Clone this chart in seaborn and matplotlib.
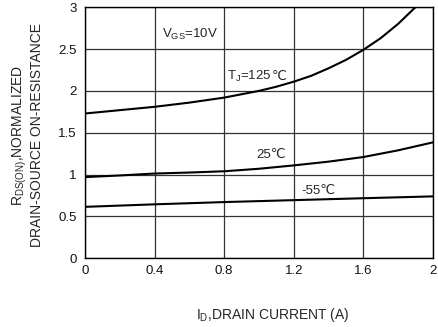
import matplotlib
matplotlib.use("Agg")
import matplotlib.pyplot as plt
import seaborn as sns
import pandas as pd

# Data
id_125 = [0.0, 0.2, 0.4, 0.6, 0.8, 1.0, 1.1, 1.2, 1.3, 1.4, 1.5, 1.6, 1.7, 1.8, 1.9]
r_125 = [1.73, 1.77, 1.81, 1.86, 1.92, 2.00, 2.05, 2.11, 2.18, 2.27, 2.37, 2.49, 2.63, 2.80, 3.00]
id_25 = [0.0, 0.2, 0.4, 0.6, 0.8, 1.0, 1.2, 1.4, 1.6, 1.8, 2.0]
r_25 = [0.97, 0.99, 1.013, 1.025, 1.04, 1.07, 1.11, 1.155, 1.21, 1.29, 1.385]
id_m55 = [0.0, 0.4, 0.8, 1.2, 1.6, 2.0]
r_m55 = [0.615, 0.645, 0.672, 0.695, 0.718, 0.74]
x_ticks = [0, 0.4, 0.8, 1.2, 1.6, 2]
x_tick_labels = ["0", "0.4", "0.8", "1.2", "1.6", "2"]
y_ticks = [0, 0.5, 1, 1.5, 2, 2.5, 3]
y_tick_labels = ["0", "0.5", "1", "1.5", "2", "2.5", "3"]

df = pd.concat([
    pd.DataFrame({"id": id_125, "r": r_125, "t": "125"}),
    pd.DataFrame({"id": id_25, "r": r_25, "t": "25"}),
    pd.DataFrame({"id": id_m55, "r": r_m55, "t": "-55"}),
])

sns.set_style("white")
plt.rcParams["font.family"] = ["Liberation Sans", "DejaVu Sans"]
plt.rcParams["mathtext.fontset"] = "custom"
plt.rcParams["mathtext.rm"] = "Liberation Sans"
plt.rcParams["mathtext.it"] = "Liberation Sans"
plt.rcParams["mathtext.bf"] = "Liberation Sans:bold"

fig = plt.figure(figsize=(4.39, 3.27), dpi=100)
ax = fig.add_axes([0.1936, 0.21, 0.7924, 0.768])

for t in ["125", "25", "-55"]:
    sub = df[df["t"] == t]
    sns.lineplot(data=sub, x="id", y="r", ax=ax, color="black", linewidth=1.5,
                 sort=False, estimator=None, legend=False)

ax.set_xlim(0, 2)
ax.set_ylim(0, 3)
ax.set_xticks(x_ticks)
ax.set_xticklabels(x_tick_labels)
ax.set_yticks(y_ticks)
ax.set_yticklabels(y_tick_labels)
ax.grid(True, color="#333333", linewidth=0.9)
ax.set_axisbelow(True)
for s in ax.spines.values():
    s.set_color("black")
    s.set_linewidth(1.0)
ax.tick_params(axis="both", length=0, labelsize=9.5, colors="#111111")
ax.tick_params(axis="x", pad=5)
ax.tick_params(axis="y", pad=6)

ax.set_xlabel(r"I$_{\mathregular{D}}$,DRAIN CURRENT (A)", fontsize=10)
ax.xaxis.set_label_coords(0.54, -0.19)
ax.set_ylabel("R$_{\\mathregular{DS(ON)}}$,NORMALIZED\nDRAIN-SOURCE ON-RESISTANCE",
              fontsize=10, linespacing=1.15)
ax.yaxis.set_label_coords(-0.117, 0.49)

fs = 9.5
ax.text(0.44, 2.67, r"V$_{\mathregular{GS}}$=10V", fontsize=fs, va="center", ha="left")
t1 = ax.text(0.815, 2.17, r"T$_{\mathregular{J}}$=125", fontsize=fs, va="center", ha="left")
ax.annotate("℃", xy=(1, 0.5), xycoords=t1, va="center", ha="left", fontsize=fs,
            family=["DejaVu Sans"])
ax.text(0.985, 1.23, "25℃", fontsize=fs, va="center", ha="left",
        family=["Liberation Sans", "DejaVu Sans"])
ax.text(1.245, 0.80, "-55℃", fontsize=fs, va="center", ha="left",
        family=["Liberation Sans", "DejaVu Sans"])

fig.savefig("out.png", dpi=100)
